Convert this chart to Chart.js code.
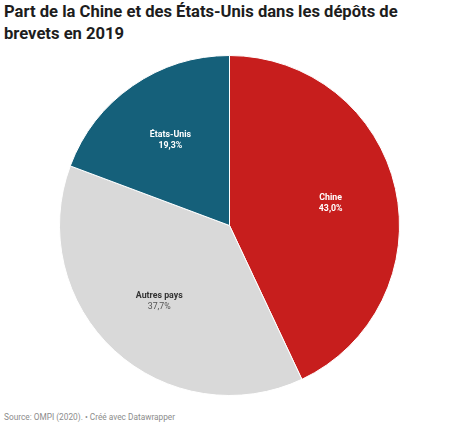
<!DOCTYPE html>
<html>
<head>
<meta charset="utf-8">
<script src="https://cdn.jsdelivr.net/npm/chart.js@4"></script>
<style>
  html, body { margin: 0; padding: 0; background: #fff; }
  body { width: 460px; height: 425px; position: relative; overflow: hidden; font-family: Roboto, sans-serif; }
  .title { position: absolute; left: 4px; top: 1px; width: 450px; font-size: 16.6px; font-weight: 700; line-height: 22px; color: #1d1d1d; }
  .footer { position: absolute; left: 4px; top: 412px; font-size: 8.3px; color: #8c8c8c; }
  .canvas-container { position: absolute; left: 59px; top: 55px; width: 341px; height: 341px; }
</style>
</head>
<body>
<div class="title">Part de la Chine et des États-Unis dans les dépôts de brevets en 2019</div>
<div class="canvas-container"><canvas id="chart" width="341" height="341"></canvas></div>
<div class="footer">Source: OMPI (2020). • Créé avec Datawrapper</div>
<script>
const categories = ['Chine', 'Autres pays', 'États-Unis'];
const shares = [43.0, 37.7, 19.3];
const colors = ['#c71e1d', '#d9d9d9', '#15607a'];
const labelColors = ['#ffffff', '#333333', '#ffffff'];

const sliceLabels = {
    id: 'sliceLabels',
    afterDatasetsDraw(chart) {
        const ctx = chart.ctx;
        const meta = chart.getDatasetMeta(0);
        ctx.save();
        ctx.textAlign = 'center';
        ctx.textBaseline = 'middle';
        meta.data.forEach((arc, i) => {
            const p = arc.getProps(['x', 'y', 'startAngle', 'endAngle', 'outerRadius'], true);
            const mid = (p.startAngle + p.endAngle) / 2;
            const r = p.outerRadius * 0.61;
            const x = p.x + Math.cos(mid) * r;
            const y = p.y + Math.sin(mid) * r;
            const dark = labelColors[i] === '#ffffff';
            ctx.fillStyle = labelColors[i];
            ctx.font = 'bold 8.8px Roboto';
            ctx.fillText(categories[i], x, y - 5.5);
            ctx.font = (dark ? 'bold ' : '') + '8.8px Roboto';
            ctx.fillStyle = dark ? '#ffffff' : '#555555';
            ctx.fillText(shares[i].toFixed(1).replace('.', ',') + '%', x, y + 5.5);
        });
        ctx.restore();
    }
};

new Chart(document.getElementById('chart').getContext('2d'), {
    type: 'pie',
    data: {
        labels: categories,
        datasets: [{
            data: shares,
            backgroundColor: colors,
            borderColor: '#ffffff',
            borderWidth: 1
        }]
    },
    options: {
        responsive: false,
        devicePixelRatio: 1,
        animation: false,
        layout: { padding: 0 },
        plugins: {
            legend: { display: false },
            tooltip: { enabled: false }
        }
    },
    plugins: [sliceLabels]
});
</script>
</body>
</html>
